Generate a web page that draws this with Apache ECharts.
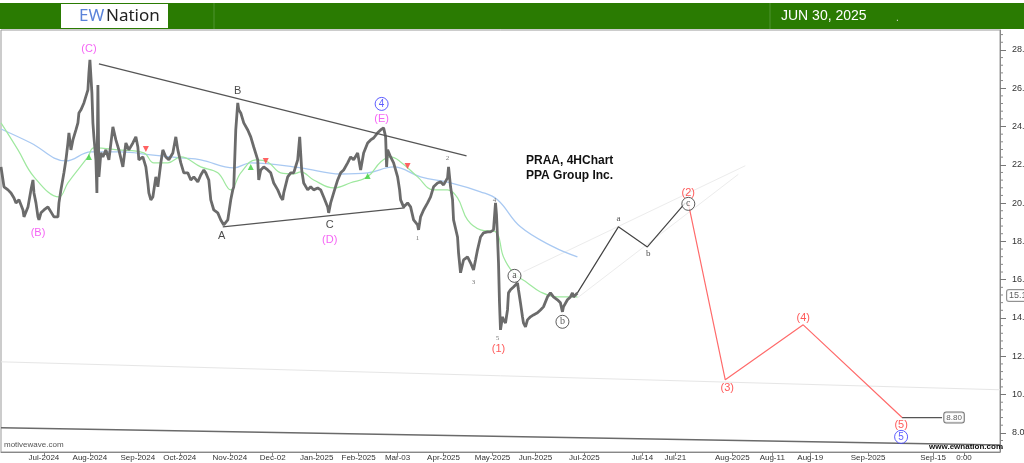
<!DOCTYPE html>
<html><head><meta charset="utf-8">
<script src="https://cdn.jsdelivr.net/npm/echarts@6/dist/echarts.min.js"></script>
<style>html,body{margin:0;padding:0;background:#fff}#c{width:1024px;height:463px}</style>
</head><body><div id="c"></div>
<script>
// ---- time axis (slots) and tick labels ----
const dateTickSlots = [43,89,137,179,229,272,316,358,397,443,492,535,584,642,675,732,772,810,868,933,964];
const dateTickLabels = ['Jul-2024','Aug-2024','Sep-2024','Oct-2024','Nov-2024','Dec-02','Jan-2025','Feb-2025','Mar-03','Apr-2025','May-2025','Jun-2025','Jul-2025','Jul-14','Jul-21','Aug-2025','Aug-11','Aug-19','Sep-2025','Sep-15','0:00'];
const priceTickLabels = [8,10,12,14,16,18,20,22,24,26,28];
const priceMinorTicks = [7.2,7.6,8.4,8.8,9.2,9.6,10.4,10.8,11.2,11.6,12.4,12.8,13.2,13.6,14.4,14.8,15.2,15.6,16.4,16.8,17.2,17.6,18.4,18.8,19.2,19.6,20.4,20.8,21.2,21.6,22.4,22.8,23.2,23.6,24.4,24.8,25.2,25.6,26.4,26.8,27.2,27.6,28.4,28.8];

// ---- PRAA 4H closes [slot, price] ----
const price = [[0,21.89],[3,20.85],[7,20.69],[10,20.53],[13,20.27],[15,20.01],[18,20.17],[22,19.64],[23,19.28],[27,19.80],[30,20.69],[32,21.21],[33,20.53],[35,20.01],[37,19.28],[38,19.12],[40,19.49],[43,19.64],[47,19.80],[50,19.54],[53,19.28],[57,19.28],[58,20.01],[60,20.69],[63,21.58],[65,22.26],[67,23.14],[68,23.67],[70,22.78],[72,23.30],[75,23.82],[77,24.19],[78,24.71],[80,24.87],[83,25.23],[87,25.91],[88,26.80],[89,27.48],[91,25.75],[92,24.19],[93,23.46],[95,22.26],[96,20.53],[97,26.17],[98,21.37],[100,22.62],[102,22.41],[105,22.78],[108,22.26],[112,23.98],[115,23.30],[118,22.78],[122,21.89],[125,23.14],[128,22.78],[132,23.14],[135,23.46],[137,22.93],[138,22.26],[142,22.41],[145,21.89],[147,21.05],[148,20.53],[150,20.17],[152,20.32],[155,21.37],[157,20.85],[160,22.10],[162,22.78],[165,22.41],[168,22.26],[172,22.62],[175,23.46],[177,22.78],[180,22.10],[183,21.58],[187,21.58],[190,21.21],[193,21.37],[197,21.11],[200,21.47],[203,21.73],[205,21.58],[208,21.21],[210,20.17],[213,19.64],[217,19.49],[220,19.12],[223,18.86],[227,19.12],[230,20.17],[232,20.69],[233,20.85],[235,23.82],[237,25.23],[238,24.87],[240,24.71],[243,24.19],[247,23.82],[250,23.46],[253,22.93],[257,22.26],[258,21.21],[260,21.73],[263,21.89],[267,21.73],[270,21.58],[273,21.05],[277,20.69],[280,20.32],[282,20.17],[283,20.53],[287,21.37],[290,21.58],[293,21.58],[297,22.26],[299,23.46],[301,21.73],[303,21.05],[307,20.69],[310,20.85],[313,20.69],[317,20.79],[320,20.69],[323,20.32],[327,19.80],[328,19.49],[330,20.01],[333,20.53],[337,21.21],[340,21.58],[343,21.73],[347,22.10],[350,22.41],[353,22.26],[357,22.62],[360,21.73],[363,22.62],[367,23.14],[370,23.30],[373,23.40],[377,23.67],[380,23.82],[383,23.93],[385,23.46],[386,21.89],[387,22.78],[390,22.41],[393,22.10],[397,21.37],[399,20.69],[400,20.17],[403,19.80],[407,20.01],[410,19.80],[413,19.12],[417,18.86],[418,18.60],[420,19.28],[423,19.64],[427,20.01],[430,20.32],[433,20.85],[437,21.05],[440,21.11],[443,20.95],[447,21.32],[448,21.89],[450,20.85],[452,20.17],[453,19.12],[457,18.23],[458,17.40],[460,16.36],[463,17.03],[467,17.19],[470,16.88],[473,16.51],[475,17.03],[477,17.56],[480,18.23],[483,18.44],[487,18.50],[490,18.50],[493,18.60],[495,20.01],[496,19.38],[497,18.23],[498,16.88],[499,14.79],[500,13.38],[502,14.06],[503,13.90],[505,13.74],[507,14.42],[508,15.31],[510,15.47],[513,15.62],[517,15.83],[518,15.47],[520,14.79],[522,14.06],[523,13.74],[525,13.54],[527,13.90],[530,14.06],[533,14.16],[537,14.27],[540,14.42],[543,14.58],[545,14.68],[547,15.10],[550,15.31],[553,15.10],[557,14.95],[560,14.79],[562,14.32],[563,14.58],[567,14.95],[570,15.10],[572,15.31],[573,15.10],[577,15.31]];
const lastPrice = 15.17;

// ---- moving averages ----
const maSlow = [[0,23.87],[30,23.14],[65,22.20],[90,22.67],[120,22.67],[150,22.52],[180,22.36],[200,22.26],[233,21.84],[250,22.10],[300,21.84],[340,21.52],[367,21.58],[393,21.89],[420,21.37],[450,21.06],[480,20.59],[497,20.17],[520,18.76],[553,17.71],[577,17.19]];
const maFast = [[0,24.19],[17,22.78],[33,21.37],[58,20.32],[67,21.06],[87,22.41],[93,22.88],[117,22.78],[143,22.62],[153,22.10],[167,22.10],[180,22.41],[200,21.89],[217,21.58],[230,20.69],[240,21.58],[255,22.26],[267,22.15],[280,21.58],[293,21.52],[300,21.63],[313,21.21],[333,20.79],[350,21.06],[367,21.37],[380,22.15],[390,22.41],[400,22.15],[417,21.37],[433,20.69],[447,20.69],[457,20.27],[467,19.12],[480,18.60],[495,18.50],[503,17.19],[513,16.36],[527,15.83],[540,15.36],[557,15.10],[577,15.10]];
const crossUp = [[88,22.41],[250,21.89],[367,21.42]];
const crossDown = [[145,22.83],[265,22.20],[407,21.94]];

// ---- trendlines & projections ----
const upperTrend = [[98,27.27],[466,22.47]];
const lowerTrend = [[222,18.76],[404,19.75]];
const channelA = [[523,16.41],[745,21.95]];
const channelB = [[577,15.05],[738,21.50]];
const longDark = [[0,8.26],[1000,7.37]];
const longFaint = [[0,11.71],[1000,10.25]];
const projABC = [[577,15.31],[618,18.76],[647,17.71],[685,20.01]];
const projImpulse = [[688,20.00],[725,10.77],[803,13.64],[902,8.80]];
const targetLine = [[902,8.80],[942,8.80]];
const targetValue = 8.80;

// ---- wave labels [slot, price, text] ----
const labelsMagenta = [[37,18.44,'(B)'],[88,28.05,'(C)'],[329,18.08,'(D)'],[381,24.40,'(E)']];
const labelsBlack = [[221,18.29,'A'],[237,25.86,'B'],[329,18.86,'C']];
const labelsSmallNum = [[417,18.18,'1'],[447,22.36,'2'],[473,15.89,'3'],[494,20.17,'4'],[497,12.96,'5']];
const labelsSerif = [[618,19.18,'a'],[648,17.35,'b']];
const labelsCircledBlack = [[514,16.20,'a'],[562,13.80,'b'],[688,19.96,'c']];
const labelsCircledBlue = [[381,25.18,'4'],[901,7.79,'5']];
const labelsRed = [[498,12.39,'(1)'],[688,20.53,'(2)'],[727,10.35,'(3)'],[803,14.01,'(4)'],[901,8.42,'(5)']];

const FONT = 'Liberation Sans, Arial, sans-serif';
function lineS(data, color, width, extra) {
  return Object.assign({type:'line', data, symbol:'none', silent:true, lineStyle:{color, width}, z:3, animation:false}, extra||{});
}
function textS(arr, style, z) {
  return {type:'scatter', symbolSize:0, silent:true, z:z||10, animation:false,
    data: arr.map(d=>({value:[d[0],d[1]], name:d[2]})),
    label:Object.assign({show:true, position:'inside', formatter:p=>p.name, fontFamily:FONT}, style)};
}
function circS(arr, color, z) {
  return {type:'scatter', symbol:'circle', symbolSize:13, silent:true, z:z||11, animation:false,
    itemStyle:{color:'#fff', borderColor:color, borderWidth:1},
    data: arr.map(d=>({value:[d[0],d[1]], name:d[2]})),
    label:{show:true, position:'inside', formatter:p=>p.name, color:color, fontSize:10, fontFamily: color==='#3535ff'?FONT:'Liberation Serif, serif'}};
}

const chart = echarts.init(document.getElementById('c'), null, {renderer:'canvas'});
chart.setOption({
  backgroundColor:'#fff',
  animation:false,
  grid:{left:1, right:24, top:30, bottom:11, show:true, borderColor:'#999', borderWidth:1, containLabel:false, outerBoundsMode:'none'},
  xAxis:{type:'value', min:0, max:1000, axisLine:{show:true, onZero:false, lineStyle:{color:'#888'}},
    axisTick:{show:true, customValues:dateTickSlots, length:4, lineStyle:{color:'#888'}},
    axisLabel:{show:true, customValues:dateTickSlots, formatter:v=>dateTickLabels[dateTickSlots.indexOf(v)]||'', fontSize:8, color:'#333', margin:2, fontFamily:FONT, hideOverlap:false},
    splitLine:{show:false}},
  yAxis:{type:'value', position:'right', min:7.0, max:29.04, axisLine:{show:true, onZero:false, lineStyle:{color:'#888'}},
     axisTick:{show:true, customValues:priceTickLabels, length:6, lineStyle:{color:'#777'}},
     axisLabel:{show:true, customValues:priceTickLabels, formatter:v=>v.toFixed(2), fontSize:9, color:'#333', margin:12, fontFamily:FONT},
     splitLine:{show:false}},
  series:[
    lineS(longFaint, '#e6e6e6', 1, {z:1}),
    lineS(longDark, '#6a6a6a', 1.5, {z:1}),
    lineS(channelA, '#ececec', 1, {z:1}),
    lineS(channelB, '#ececec', 1, {z:1}),
    lineS(maSlow, '#a9c9f2', 1.3, {smooth:0.4, z:2}),
    lineS(maFast, '#9fe89f', 1.2, {smooth:0.4, z:2}),
    lineS(price, '#6b6b6b', 2.8, {z:4}),
    lineS(upperTrend, '#555', 1.2, {z:5}),
    lineS(lowerTrend, '#555', 1.2, {z:5}),
    lineS(projABC, '#444', 1.2, {z:5}),
    lineS(projImpulse, '#ff6b6b', 1.2, {z:5}),
    lineS(targetLine, '#555', 1.2, {z:5}),
    {type:'scatter', symbol:'triangle', symbolSize:6, itemStyle:{color:'#3fcf3f'}, data:crossUp, z:6, silent:true},
    {type:'scatter', symbol:'triangle', symbolRotate:180, symbolSize:6, itemStyle:{color:'#ff3b3b'}, data:crossDown, z:6, silent:true},
    textS(labelsMagenta, {color:'#f23df2', fontSize:11}),
    textS(labelsBlack, {color:'#1a1a1a', fontSize:11}),
    textS(labelsSmallNum, {color:'#555', fontSize:7, fontFamily:'Liberation Serif, serif'}),
    textS(labelsSerif, {color:'#222', fontSize:9, fontFamily:'Liberation Serif, serif'}),
    textS(labelsRed, {color:'#ff3030', fontSize:11}),
    circS(labelsCircledBlack, '#333'),
    circS(labelsCircledBlue, '#3535ff'),
    // minor price ticks on the right axis, placed by the y scale
    {type:'custom', silent:true, z:20, clip:false, data:priceMinorTicks.map(v=>[v]),
     encode:{y:0},
     renderItem:(params, api)=>{
       const p = api.coord([1000, api.value(0)]);
       return {type:'line', shape:{x1:p[0], y1:p[1], x2:p[0]+3, y2:p[1]}, style:{stroke:'#888', lineWidth:1}};
     }},
    {type:'scatter', symbolSize:0, silent:true, z:12, clip:false, data:[{value:[954,targetValue]}],
     label:{show:true, position:'inside', formatter:()=>targetValue.toFixed(2), fontSize:8, color:'#333', fontFamily:FONT,
       backgroundColor:'#fff', borderColor:'#555', borderWidth:1, borderRadius:2, padding:[1,2]}},
    {type:'scatter', symbolSize:0, silent:true, z:12, clip:false, data:[{value:[1007,lastPrice]}],
     label:{show:true, position:'right', distance:0, formatter:()=>lastPrice.toFixed(2), fontSize:9, color:'#333', fontFamily:FONT,
       backgroundColor:'#fff', borderColor:'#777', borderWidth:1, borderRadius:2, padding:[1,2]}}
  ],
  graphic:[
    {type:'rect', shape:{x:0,y:3,width:1024,height:26}, style:{fill:'#2a7b02'}, z:100},
    {type:'line', shape:{x1:214,y1:3,x2:214,y2:29}, style:{stroke:'#4f9430', lineWidth:1}, z:101},
    {type:'line', shape:{x1:770,y1:3,x2:770,y2:29}, style:{stroke:'#4f9430', lineWidth:1}, z:101},
    {type:'rect', shape:{x:61,y:4,width:107,height:24}, style:{fill:'#fff'}, z:101},
    {type:'group', z:102, children:[
      {type:'rect', shape:{x:64,y:13,width:1.5,height:6}, style:{fill:'#9aa'}},
      {type:'rect', shape:{x:67,y:10,width:1.5,height:12}, style:{fill:'#888'}},
      {type:'rect', shape:{x:70,y:7,width:1.5,height:18}, style:{fill:'#6a7fd0'}},
      {type:'rect', shape:{x:73,y:9,width:1.5,height:14}, style:{fill:'#555'}},
      {type:'rect', shape:{x:76,y:12,width:1.5,height:8}, style:{fill:'#999'}}
    ]},
    {type:'text', x:79, y:16, z:102, style:{text:'EW', fill:'#5b83d9', font:'17px "Noto Sans", sans-serif', textVerticalAlign:'middle'}},
    {type:'text', x:106, y:16, z:102, style:{text:'Nation', fill:'#222', font:'17px "Noto Sans", sans-serif', textVerticalAlign:'middle'}},
    {type:'text', x:781, y:16, z:102, style:{text:'JUN 30, 2025', fill:'#fff', font:'14px "Liberation Sans Narrow", "Liberation Sans", sans-serif', textVerticalAlign:'middle'}},
    {type:'text', x:896, y:18, z:102, style:{text:'.', fill:'#ddd', font:'10px sans-serif', textVerticalAlign:'middle'}},
    {type:'text', x:526, y:161, z:50, style:{text:'PRAA, 4HChart', fill:'#111', font:'bold 12px "Liberation Sans", Arial, sans-serif', textVerticalAlign:'middle'}},
    {type:'text', x:526, y:176, z:50, style:{text:'PPA Group Inc.', fill:'#111', font:'bold 12px "Liberation Sans", Arial, sans-serif', textVerticalAlign:'middle'}},
    {type:'text', x:4, y:445, z:50, style:{text:'motivewave.com', fill:'#555', font:'8px "Liberation Sans", Arial, sans-serif', textVerticalAlign:'middle'}},
    {type:'text', x:1003, y:447, z:50, style:{text:'www.ewnation.com', fill:'#111', font:'bold 8px "Liberation Sans", Arial, sans-serif', textAlign:'right', textVerticalAlign:'middle'}}
  ]
});
</script></body></html>
